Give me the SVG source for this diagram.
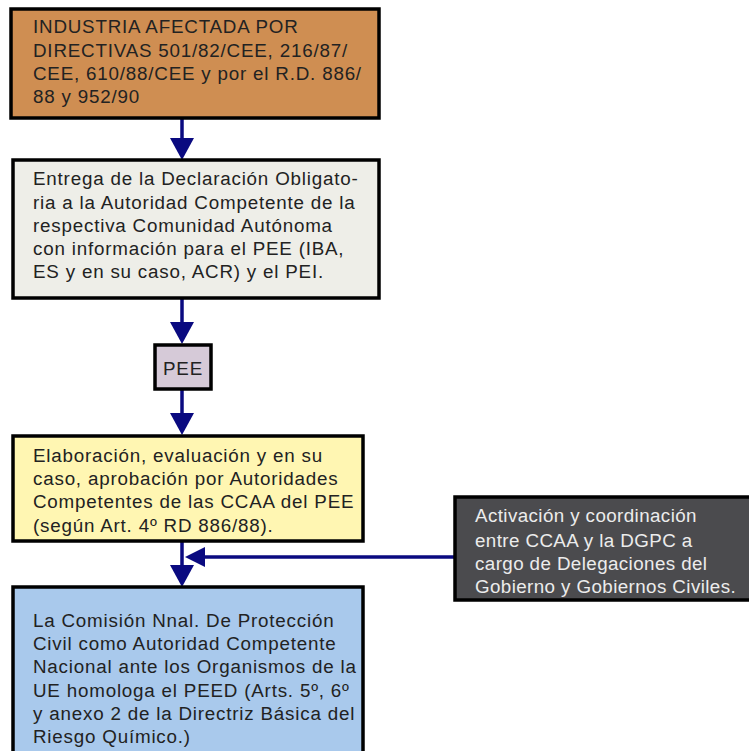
<svg xmlns="http://www.w3.org/2000/svg" width="749" height="751" viewBox="0 0 749 751">
<style>
.box{stroke:#000;stroke-width:3.5}
.t{font-family:"Liberation Sans",Arial,sans-serif;font-size:18.8px;fill:#222;letter-spacing:0.8px}
.tw{fill:#ececec;letter-spacing:0.4px}
.ln{stroke:#0a0a80;stroke-width:3.5;fill:none}
.ah{fill:#0a0a80}
</style>
<defs>
<polygon id="down" points="-12,-22 12,-22 0,0"/>
</defs>
<rect width="749" height="751" fill="#fff"/>
<g id="connectors">
<line class="ln" x1="182" y1="118" x2="182" y2="145"/>
<use href="#down" class="ah" x="182" y="160"/>
<line class="ln" x1="182" y1="298" x2="182" y2="325"/>
<use href="#down" class="ah" x="182" y="344"/>
<line class="ln" x1="182" y1="389" x2="182" y2="418"/>
<use href="#down" class="ah" x="182" y="435"/>
<line class="ln" x1="182" y1="541" x2="182" y2="572"/>
<use href="#down" class="ah" x="182" y="587"/>
<line class="ln" x1="200" y1="557" x2="456" y2="557"/>
<polygon class="ah" points="185,557 205,547 205,567"/>
</g>
<g id="n1">
<rect class="box" x="11" y="9" width="368" height="109" fill="#cf8e52"/>
<text class="t"><tspan x="33" y="33">INDUSTRIA AFECTADA POR</tspan><tspan x="33" y="57">DIRECTIVAS 501/82/CEE, 216/87/</tspan><tspan x="33" y="80">CEE, 610/88/CEE  y por el R.D. 886/</tspan><tspan x="33" y="103">88 y 952/90</tspan></text>
</g>
<g id="n2">
<rect class="box" x="13" y="160" width="366" height="138" fill="#eeeee8"/>
<text class="t"><tspan x="33" y="185">Entrega de la Declaración Obligato-</tspan><tspan x="33" y="209">ria a la Autoridad Competente de la</tspan><tspan x="33" y="232">respectiva Comunidad Autónoma</tspan><tspan x="33" y="255">con información para el PEE (IBA,</tspan><tspan x="33" y="278">ES y en su caso, ACR) y el PEI.</tspan></text>
</g>
<g id="n3">
<rect class="box" x="155" y="345" width="56" height="44" fill="#d6cad8"/>
<text class="t" x="183" y="375" text-anchor="middle">PEE</text>
</g>
<g id="n4">
<rect class="box" x="13" y="436" width="350" height="105" fill="#fff6b2"/>
<text class="t"><tspan x="33" y="462">Elaboración, evaluación y en su</tspan><tspan x="33" y="485">caso, aprobación por Autoridades</tspan><tspan x="33" y="508">Competentes de las CCAA del PEE</tspan><tspan x="33" y="532">(según Art. 4º RD 886/88).</tspan></text>
</g>
<g id="n5">
<rect class="box" x="13" y="587" width="350" height="180" fill="#a9c9ec"/>
<text class="t"><tspan x="33" y="627">La Comisión Nnal. De Protección</tspan><tspan x="33" y="650">Civil como Autoridad Competente</tspan><tspan x="33" y="673">Nacional ante los Organismos de la</tspan><tspan x="33" y="697">UE homologa el PEED (Arts. 5º, 6º</tspan><tspan x="33" y="720">y anexo 2 de la Directriz Básica del</tspan><tspan x="33" y="743">Riesgo Químico.)</tspan></text>
</g>
<g id="n6">
<rect class="box" x="455" y="497" width="300" height="103" fill="#4b4b4e"/>
<text class="t tw"><tspan x="475" y="522">Activación y coordinación</tspan><tspan x="475" y="547">entre CCAA y la DGPC a</tspan><tspan x="475" y="570">cargo de Delegaciones del</tspan><tspan x="475" y="593">Gobierno y Gobiernos Civiles.</tspan></text>
</g>
</svg>
